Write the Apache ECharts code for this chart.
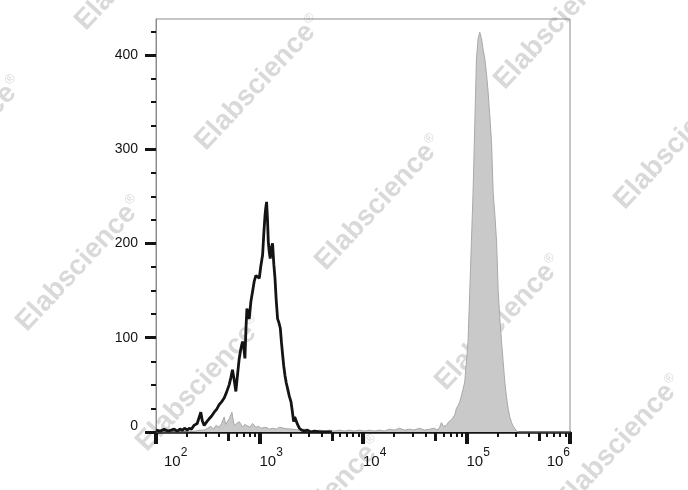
<!DOCTYPE html>
<html>
<head>
<meta charset="utf-8">
<script src="https://cdn.jsdelivr.net/npm/echarts@6/dist/echarts.min.js"></script>
<style>html,body{margin:0;padding:0;background:#fff}#c{width:688px;height:490px}</style>
</head>
<body>
<div id="c"></div>
<script>
// ---- data ----
// unstained / control histogram (black outline): [fluorescence, count]
const blackHist = [
  [100,2],[110,1],[120,3],[130,1],[140,2],[150,3],[160,1],[170,3],[180,2],[190,4],[200,2],[210,4],[220,3],
  [233,7],[250,9],[271,21],[280,12],[292,7],[310,11],[326,14],[345,17],[365,21],[385,24],[408,29],[430,32],
  [456,36],[480,42],[509,50],[530,58],[548,66],[570,55],[591,43],[615,62],[637,78],[660,88],[686,96],[705,90],
  [723,78],[740,110],[756,131],[776,126],[796,120],[825,138],[857,149],[890,160],[924,166],[960,168],[995,163],
  [1030,176],[1072,188],[1100,210],[1131,230],[1150,238],[1171,244],[1195,225],[1216,202],[1245,190],[1271,184],
  [1300,195],[1337,200],[1375,178],[1412,163],[1450,140],[1496,120],[1540,116],[1589,110],[1630,95],[1672,82],
  [1715,70],[1763,60],[1815,52],[1869,46],[1940,38],[2016,32],[2075,22],[2137,11],[2190,16],[2253,14],[2330,8],
  [2427,4],[2560,2],[2712,1],[2900,2],[3100,0],[3400,1],[3800,0],[5000,0]
];
// stained histogram (grey filled): [fluorescence, count]
const greyHist = [
  [100,0],[190,0],[240,1],[265,2],[292,2],[315,4],[339,6],[360,3],[379,7],[408,5],[430,9],[456,16],[470,8],
  [480,6],[510,14],[541,21],[569,7],[600,9],[637,11],[686,5],[720,8],[750,10],[808,5],[857,9],[924,5],[980,6],
  [1033,4],[1154,5],[1250,3],[1337,4],[1450,3],[1553,5],[1804,3.5],[2091,3],[2427,2],[2700,3],[3034,2],[3400,1],
  [3792,2],[4300,1],[4742,2],[5300,1],[5921,2],[6600,1],[7396,2],[8200,1],[9246,2],[10300,1],[11560,2],[13000,1],
  [14450,2],[16000,1],[18060,3],[20000,2],[22540,4],[25000,2],[28180,3],[31000,2],[35230,4],[39000,2],[44040,3],
  [49220,4],[52000,2],[55000,5],[57200,10],[60000,6],[64000,7],[67500,11],[71500,13],[76900,18],[79900,25],
  [83000,28],[86100,32],[91000,42],[96200,53],[103500,96],[107500,149],[111600,202],[115700,254],[120200,325],
  [124800,396],[129400,417],[134400,424],[139600,417],[145000,405],[150200,396],[156000,380],[161900,360],
  [168000,335],[174600,307],[180900,254],[188000,230],[195200,202],[202500,149],[210000,120],[218000,96],
  [226000,75],[234400,53],[243000,38],[252500,25],[262000,16],[272500,10],[283000,6],[293200,4],[305000,1],
  [320000,0],[1000000,0]
];
// axis ticks
const xRange = [100, 1000000];
const yRange = [0, 438];
const yMajorTicks = [0, 100, 200, 300, 400];
const yMinorTicks = [25, 50, 75, 125, 150, 175, 225, 250, 275, 325, 350, 375, 425];
const xDecades = [2, 3, 4, 5];
const xMediumMult = [5];
const xMinorMult = [2, 3, 4, 6, 7, 8, 9];
const watermarkText = 'Elabscience';

// ---- build ----
const logTicks = mults => {
  const out = [];
  xDecades.forEach(d => mults.forEach(m => out.push(Math.log10(m) + d)));
  return out;
};
const FONT = "'Liberation Sans', Arial, sans-serif";
const INK = '#141414';
const FRAME = '#8c8c8c';

// watermark lattice
const wm = [];
const base = [259, 83], u = [120, 120], v = [179, -181];
for (let b = -2; b <= 1; b++) {
  for (let a = -2; a <= 4; a++) {
    const x = base[0] + a * u[0] + b * v[0];
    const y = base[1] + a * u[1] + b * v[1];
    if (x < -120 || x > 810 || y < -110 || y > 600) continue;
    wm.push({
      type: 'text', x: x, y: y, rotation: 47 * Math.PI / 180, z: -1, silent: true,
      style: {
        text: watermarkText + '{r|®}', fill: '#d9d9d9', fontFamily: FONT, fontWeight: 'bold', fontSize: 28,
        align: 'center', verticalAlign: 'middle',
        rich: { r: { fontSize: 13, fontWeight: 'normal', fill: '#d9d9d9', padding: [0, 0, 14, 1] } }
      }
    });
  }
}

const chart = echarts.init(document.getElementById('c'), null, { renderer: 'canvas' });
chart.setOption({
  animation: false,
  backgroundColor: '#ffffff',
  graphic: { elements: wm },
  grid: { left: 156, right: 118, top: 19, bottom: 58, show: true, borderColor: FRAME, borderWidth: 1,
          backgroundColor: 'transparent', containLabel: false, outerBoundsMode: 'none' },
  xAxis: [
    { type: 'log', logBase: 10, min: xRange[0], max: xRange[1], position: 'bottom',
      axisLine: { show: true, lineStyle: { color: INK, width: 2.5 } },
      axisTick: { show: true, length: 12, lineStyle: { color: INK, width: 4 } },
      splitLine: { show: false },
      axisLabel: {
        show: true, color: INK, fontFamily: FONT, fontSize: 15, margin: 15, align: 'left',
        alignMaxLabel: 'right',
        formatter: val => {
          const n = Math.round(Math.log10(val));
          return n === 2 ? '{p|10}{s|' + n + '}' : '10{s|' + n + '}';
        },
        rich: {
          s: { fontSize: 12, fontFamily: FONT, color: INK, padding: [0, 0, 18, 0] },
          p: { fontSize: 15, fontFamily: FONT, color: INK, padding: [0, 0, 0, 8] }
        }
      }
    },
    { type: 'value', min: 2, max: 6, position: 'bottom', show: true,
      axisLine: { show: false }, axisLabel: { show: false }, splitLine: { show: false },
      axisTick: { show: true, length: 9, customValues: logTicks(xMediumMult), lineStyle: { color: INK, width: 3 } } },
    { type: 'value', min: 2, max: 6, position: 'bottom', show: true,
      axisLine: { show: false }, axisLabel: { show: false }, splitLine: { show: false },
      axisTick: { show: true, length: 5, customValues: logTicks(xMinorMult), lineStyle: { color: INK, width: 2 } } }
  ],
  yAxis: [
    { type: 'value', min: yRange[0], max: yRange[1], position: 'left',
      axisLine: { show: true, lineStyle: { color: FRAME, width: 1 } },
      axisTick: { show: true, length: 11, customValues: yMajorTicks, lineStyle: { color: INK, width: 3 } },
      splitLine: { show: false },
      axisLabel: { show: true, customValues: yMajorTicks, color: INK, fontFamily: FONT,
        fontSize: 14, margin: 18,
        formatter: val => val === 0 ? '{z|0}' : String(val),
        rich: { z: { fontSize: 14, fontFamily: FONT, color: INK, padding: [0, 0, 12, 0] } } }
    },
    { type: 'value', min: yRange[0], max: yRange[1], position: 'left', show: true,
      axisLine: { show: false }, axisLabel: { show: false }, splitLine: { show: false },
      axisTick: { show: true, length: 5, customValues: yMinorTicks, lineStyle: { color: INK, width: 2 } } }
  ],
  series: [
    { type: 'line', name: 'stained', xAxisIndex: 0, yAxisIndex: 0, data: greyHist, showSymbol: false,
      symbol: 'none', z: 2, lineStyle: { color: '#a8a8a8', width: 1 },
      areaStyle: { color: '#c9c9c9', opacity: 1 } },
    { type: 'line', name: 'control', xAxisIndex: 0, yAxisIndex: 0, data: blackHist, showSymbol: false,
      symbol: 'none', z: 3, lineStyle: { color: INK, width: 2.8 } }
  ]
});
</script>
</body>
</html>
